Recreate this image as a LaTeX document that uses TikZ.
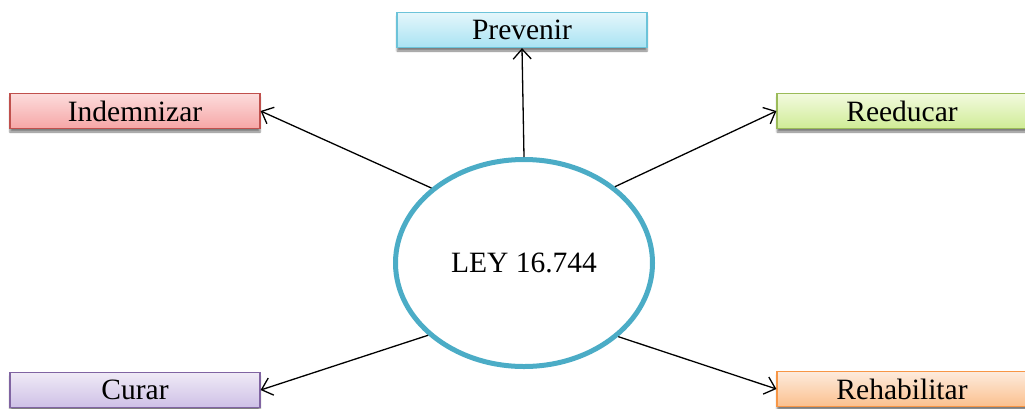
\documentclass[tikz,border=0pt]{standalone}
\usepackage{fontspec}
\setmainfont{Liberation Serif}
\usetikzlibrary{shapes.geometric,arrows.meta,shadows.blur}
\definecolor{leyc}{HTML}{4BACC6}
\definecolor{pB}{HTML}{6CC3D9}\definecolor{pT}{HTML}{E4F6FB}\definecolor{pL}{HTML}{A9E3F3}
\definecolor{iB}{HTML}{C0504D}\definecolor{iT}{HTML}{FCDCDC}\definecolor{iL}{HTML}{F6A6A6}
\definecolor{rB}{HTML}{9BBB59}\definecolor{rT}{HTML}{F2FADF}\definecolor{rL}{HTML}{CFEC96}
\definecolor{cB}{HTML}{8064A2}\definecolor{cT}{HTML}{EFEAF6}\definecolor{cL}{HTML}{CEC0E6}
\definecolor{hB}{HTML}{F79646}\definecolor{hT}{HTML}{FDEBDD}\definecolor{hL}{HTML}{FBC08E}
\tikzset{
  box/.style={draw, line width=1.2pt, minimum width=250pt, minimum height=35pt, inner sep=0pt,
    font=\fontsize{29.5}{31}\selectfont,
    blur shadow={shadow xshift=0pt, shadow yshift=-3.5pt, shadow blur steps=5, shadow opacity=50}},
  conn/.style={line width=1.3pt, -{Straight Barb[length=10pt,width=18pt,line width=1.3pt]}},
}
\begin{document}
\begin{tikzpicture}[x=1pt,y=-1pt]
\useasboundingbox (0,0) rectangle (1025,408);
\clip (0,0) rectangle (1025,408);
\node[box, draw=pB, top color=pT, bottom color=pL] (prev) at (522,30) {Prevenir};
\node[box, draw=iB, top color=iT, bottom color=iL] (ind) at (135,111) {Indemnizar};
\node[box, draw=rB, top color=rT, bottom color=rL] (ree) at (902,111) {Reeducar};
\node[box, draw=cB, top color=cT, bottom color=cL] (cur) at (135,390) {Curar};
\node[box, draw=hB, top color=hT, bottom color=hL] (reh) at (902,389) {Rehabilitar};
\node[draw=leyc, line width=5pt, ellipse, minimum width=257pt, minimum height=207pt,
  font=\fontsize{29.5}{31}\selectfont] (ley) at (524,263) {LEY 16.744};
\draw[conn] (ley.north) -- (prev.south);
\draw[conn] (ley.141) -- (ind.east);
\draw[conn] (ley.40) -- (ree.west);
\draw[conn] (ley.217) -- (cur.east);
\draw[conn] (ley.322) -- (reh.west);
\end{tikzpicture}
\end{document}
